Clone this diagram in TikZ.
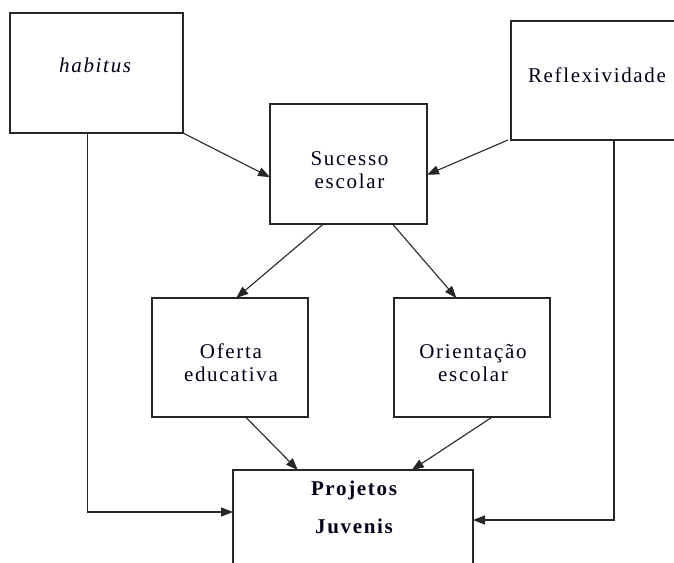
\documentclass[tikz,border=0pt]{standalone}
\usepackage{fontspec}
\setmainfont{Liberation Serif}[LetterSpace=8]
\usetikzlibrary{arrows.meta,calc}
\tikzset{
  boxnode/.style={draw=black!85, line width=1.1pt, inner sep=0pt, outer sep=0pt, fill=none},
  txt/.style={font=\fontsize{21}{22.5}\selectfont, text=black!90!blue, align=center, inner sep=0pt, anchor=base},
  arr/.style={draw=black!85, line width=1.1pt, -{Triangle[length=12pt,width=9pt]}}
}
\begin{document}
\begin{tikzpicture}[x=1pt,y=-1pt]
\useasboundingbox (0,0) rectangle (674,562);
\clip (0,0) rectangle (674,562);
\fill[white] (0,0) rectangle (674,562);
% boxes
\node[boxnode, minimum width=173pt, minimum height=120pt] (hab) at (96.5,73) {};
\node[boxnode, minimum width=170pt, minimum height=119pt] (ref) at (596,80.5) {};
\node[boxnode, minimum width=157pt, minimum height=120pt] (suc) at (348.5,164) {};
\node[boxnode, minimum width=156pt, minimum height=119pt] (ofe) at (230,357.5) {};
\node[boxnode, minimum width=156pt, minimum height=119pt] (ori) at (472,357.5) {};
\node[boxnode, minimum width=240pt, minimum height=130pt] (pro) at (353,535) {};
% texts (base = baseline of last line)
\node[txt] (habt) at (96,72.5) {\textit{habitus}};
\node[txt] (reft) at (597,82) {Reflexividade};
\node[txt] (suct) at (349.5,188) {Sucesso\\escolar};
\node[txt] (ofet) at (231,381) {Oferta\\educativa};
\node[txt] (orit) at (473,381) {Orientação\\escolar};
\node[txt, font=\fontsize{21}{38}\selectfont\bfseries] (prot) at (354,533) {Projetos\\Juvenis};
% connectors
\draw[arr] (hab.south east) -- ($(suc.north west)!0.61!(suc.south west)$);
\draw[arr] ($(ref.south west)+(-3,0)$) -- ($(suc.north east)!0.59!(suc.south east)$);
\draw[arr] ($(suc.south west)!0.34!(suc.south east)$) -- ($(ofe.north west)!0.54!(ofe.north east)$);
\draw[arr] ($(suc.south west)!0.78!(suc.south east)$) -- ($(ori.north west)!0.40!(ori.north east)$);
\draw[arr] ($(ofe.south west)!0.60!(ofe.south east)$) -- ($(pro.north west)!0.27!(pro.north east)$);
\draw[arr] ($(ori.south west)!0.63!(ori.south east)$) -- ($(pro.north west)!0.745!(pro.north east)$);
\draw[arr] ($(hab.south west)!0.45!(hab.south east)$) |- ($(pro.north west)+(0,42)$);
\draw[arr] ($(ref.south west)!0.606!(ref.south east)$) |- ($(pro.north east)+(0,50)$);
\end{tikzpicture}
\end{document}
